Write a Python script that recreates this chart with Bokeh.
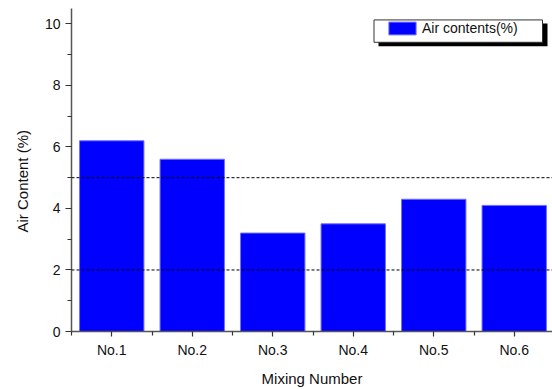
from bokeh.plotting import figure
from bokeh.models import (ColumnDataSource, Range1d, FixedTicker, Span, Legend,
                          LegendItem, BoxAnnotation, Title)
from bokeh.embed import file_html
from bokeh.resources import INLINE

categories = ["No.1", "No.2", "No.3", "No.4", "No.5", "No.6"]
air_content = [6.2, 5.6, 3.2, 3.5, 4.3, 4.1]
reference_lines = [2, 5]
y_ticks = [0, 2, 4, 6, 8, 10]
series_name = "Air contents(%)"
x_title = "Mixing Number"
y_title = "Air Content (%)"

positions = list(range(1, len(categories) + 1))
src = ColumnDataSource(data=dict(x=positions, y=air_content, cat=categories))

FONT = "Liberation Sans"
W, H = 552, 389
LEFT, RIGHT, TOP, BOTTOM = 71, 0, 8, 56
frame_w = W - LEFT - RIGHT
frame_h = H - TOP - BOTTOM
px_per_cat = 80.5
x0 = 0.5
x1 = x0 + frame_w / px_per_cat
y1 = 10.5

p = figure(width=W, height=H, output_backend="svg", toolbar_location=None,
           x_range=Range1d(x0, x1), y_range=Range1d(0, y1),
           min_border_left=LEFT, min_border_right=RIGHT,
           min_border_top=TOP, min_border_bottom=BOTTOM)
p.outline_line_color = None
p.xgrid.visible = False
p.ygrid.visible = False
p.background_fill_color = "white"
p.border_fill_color = "white"

r = p.vbar(x="x", top="y", width=0.8, bottom=0, source=src,
           fill_color="#0000ff", line_color="#7070ff", line_width=1)

for v in reference_lines:
    p.add_layout(Span(location=v, dimension="width", line_color="black",
                      line_width=1, line_dash="3 2"))

# axes
xa = p.xaxis[0]
xa.ticker = FixedTicker(ticks=positions,
                        minor_ticks=[i + 0.5 for i in range(0, len(categories) + 1)])
xa.major_label_overrides = {i: c for i, c in zip(positions, categories)}
ya = p.yaxis[0]
ya.ticker = FixedTicker(ticks=y_ticks, minor_ticks=[1, 3, 5, 7, 9])

for ax in (xa, ya):
    ax.axis_line_color = "#555555"
    ax.axis_line_width = 1.5
    ax.major_tick_line_color = "#333333"
    ax.minor_tick_line_color = "#333333"
    ax.major_tick_line_width = 1.2
    ax.minor_tick_line_width = 1.2
    ax.major_tick_in = 0
    ax.minor_tick_in = 0
    ax.major_label_text_font = FONT
    ax.major_label_text_font_size = "14px"
    ax.major_label_text_color = "#111111"
    ax.axis_label_text_font = FONT
    ax.axis_label_text_font_size = "15px"
    ax.axis_label_text_font_style = "normal"
    ax.axis_label_text_color = "#111111"

xa.major_tick_out = 5
xa.minor_tick_out = 4
xa.major_label_standoff = 5
xa.axis_label = x_title
xa.axis_label_standoff = 9

ya.major_tick_out = 6
ya.minor_tick_out = 4
ya.major_label_standoff = 5

# y-axis title (slightly below the frame centre, as in the reference)
p.add_layout(Title(text=y_title, align="left", offset=99, standoff=22,
                   text_font=FONT, text_font_size="15px",
                   text_font_style="normal", text_color="#111111"), "left")


def dx(px):
    return x0 + (px - LEFT) / px_per_cat


def dy(py):
    return (TOP + frame_h - py) / frame_h * y1


# legend frame with shadow (decoration)
p.add_layout(BoxAnnotation(left=dx(378), right=dx(547), top=dy(23), bottom=dy(46),
                           fill_color="black", fill_alpha=1, line_color="black",
                           line_width=0, level="annotation"))
p.add_layout(BoxAnnotation(left=dx(373.5), right=dx(542), top=dy(19.5), bottom=dy(42),
                           fill_color="white", fill_alpha=1, line_color="#333333",
                           line_alpha=1, line_width=1, level="annotation"))

legend = Legend(items=[LegendItem(label=series_name, renderers=[r])],
                location=(385 - LEFT, frame_h - (22 - TOP) - 16),
                margin=0, padding=0, spacing=0,
                glyph_width=34, glyph_height=16, label_height=16,
                label_standoff=3, label_text_font=FONT,
                label_text_font_size="14px", label_text_color="#111111",
                border_line_color=None, background_fill_alpha=0)
p.add_layout(legend, "center")

open("out.html", "w").write(file_html(p, INLINE))
